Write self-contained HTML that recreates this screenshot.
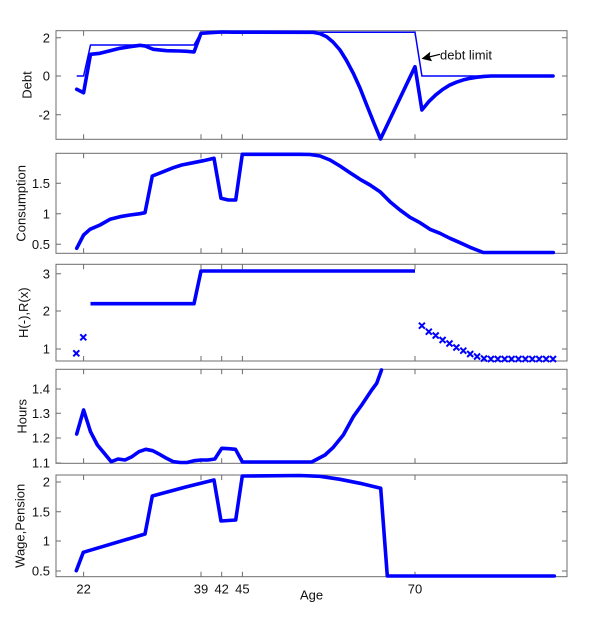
<!DOCTYPE html>
<html>
<head>
<meta charset="utf-8">
<style>
html,body{margin:0;padding:0;background:#fff;}
svg{display:block;}
text{font-family:"Liberation Sans",Arial,sans-serif;font-size:13px;fill:#111;}
</style>
</head>
<body>
<svg width="600" height="619" viewBox="0 0 600 619" xmlns="http://www.w3.org/2000/svg">
<rect x="0" y="0" width="600" height="619" fill="#fff"/>

<!-- axes boxes -->
<g fill="none" stroke="#6c6c6c" stroke-width="1">
  <rect x="56" y="30.7" width="511" height="108.6"/>
  <rect x="56" y="153.3" width="511" height="100"/>
  <rect x="56" y="264.3" width="511" height="96.7"/>
  <rect x="56" y="369.3" width="511" height="94"/>
  <rect x="56" y="475" width="511" height="101.7"/>
  <!-- ticks -->
  <path d="
  M83.6 139.3v-5M201 139.3v-5M221.7 139.3v-5M242.4 139.3v-5M415 139.3v-5
  M83.6 30.7v5M201 30.7v5M221.7 30.7v5M242.4 30.7v5M415 30.7v5
  M56 37.7h5M56 76h5M56 114.7h5M567 37.7h-5M567 76h-5M567 114.7h-5
  M83.6 253.3v-5M201 253.3v-5M221.7 253.3v-5M242.4 253.3v-5M415 253.3v-5
  M83.6 153.3v5M201 153.3v5M221.7 153.3v5M242.4 153.3v5M415 153.3v5
  M56 183.3h5M56 213.7h5M56 244.3h5M567 183.3h-5M567 213.7h-5M567 244.3h-5
  M83.6 361v-5M201 361v-5M221.7 361v-5M242.4 361v-5M415 361v-5
  M83.6 264.3v5M201 264.3v5M221.7 264.3v5M242.4 264.3v5M415 264.3v5
  M56 273.7h5M56 311h5M56 349h5M567 273.7h-5M567 311h-5M567 349h-5
  M83.6 463.3v-5M201 463.3v-5M221.7 463.3v-5M242.4 463.3v-5M415 463.3v-5
  M83.6 369.3v5M201 369.3v5M221.7 369.3v5M242.4 369.3v5M415 369.3v5
  M56 389h5M56 413.3h5M56 438h5M56 463h5M567 389h-5M567 413.3h-5M567 438h-5M567 463h-5
  M83.6 576.7v-5M201 576.7v-5M221.7 576.7v-5M242.4 576.7v-5M415 576.7v-5
  M83.6 475v5M201 475v5M221.7 475v5M242.4 475v5M415 475v5
  M56 482h5M56 511.7h5M56 541h5M56 571h5M567 482h-5M567 511.7h-5M567 541h-5M567 571h-5
  "/>
</g>

<!-- y tick labels -->
<g text-anchor="end">
  <text x="50" y="42.3">2</text>
  <text x="50" y="80.6">0</text>
  <text x="50" y="119.3">-2</text>
  <text x="50" y="187.9">1.5</text>
  <text x="50" y="218.3">1</text>
  <text x="50" y="248.9">0.5</text>
  <text x="50" y="278.3">3</text>
  <text x="50" y="315.6">2</text>
  <text x="50" y="353.6">1</text>
  <text x="50" y="393.6">1.4</text>
  <text x="50" y="417.9">1.3</text>
  <text x="50" y="442.6">1.2</text>
  <text x="50" y="467.6">1.1</text>
  <text x="50" y="486.6">2</text>
  <text x="50" y="516.3">1.5</text>
  <text x="50" y="545.6">1</text>
  <text x="50" y="575.6">0.5</text>
</g>

<!-- y labels -->
<text transform="translate(31.5,85) rotate(-90)" text-anchor="middle">Debt</text>
<text transform="translate(25.5,203.3) rotate(-90)" text-anchor="middle">Consumption</text>
<text transform="translate(28,312.7) rotate(-90)" text-anchor="middle">H(-),R(x)</text>
<text transform="translate(26.7,416.3) rotate(-90)" text-anchor="middle">Hours</text>
<text transform="translate(24.5,525.8) rotate(-90)" text-anchor="middle">Wage,Pension</text>

<!-- x tick labels -->
<g text-anchor="middle">
  <text x="83.6" y="593.5">22</text>
  <text x="201" y="593.5">39</text>
  <text x="221.7" y="593.5">42</text>
  <text x="242.4" y="593.5">45</text>
  <text x="415" y="593.5">70</text>
</g>
<text x="300" y="599.5">Age</text>

<!-- Panel 1: debt limit (thin) -->
<polyline fill="none" stroke="#0000ff" stroke-width="1.5" stroke-linejoin="round"
 points="76.7,76 83.6,76 90.5,45 194,45 201,32.3 415,32.3 421.9,76 553,76"/>
<!-- Panel 1: debt (thick) -->
<polyline fill="none" stroke="#0000ff" stroke-width="3.6" stroke-linejoin="round" stroke-linecap="round"
 points="76.7,89.3 83.6,92.7 90.5,54.3 100,53.3 110,50.7 120,48.3 130,46.7 140,45.3 145,46 153.3,49.3 166.7,50.7 180,51 186.7,51.3 194,52 201,33.3 210,32.7 221.7,32 233,32.2 313.3,32.3 320,33.6 326.7,36.7 333,42 340,50 346.5,60.5 353.3,73.3 360,88 366.7,105 373.5,122 380.5,139 415,66.7 421.9,110 428.8,101.6 435.7,94.9 442.6,89.5 449.5,85.2 456.4,82.2 463.3,79.9 470.2,78.3 477.1,77.2 484,76.4 491,76 553,76"/>

<!-- annotation arrow -->
<line x1="440" y1="54.3" x2="429" y2="57" stroke="#000" stroke-width="1.2"/>
<polygon points="421.5,58.7 432.1,61.2 429.6,56.7 430.3,51.8" fill="#000"/>
<text x="440" y="59.3">debt limit</text>

<!-- Panel 2: consumption -->
<polyline fill="none" stroke="#0000ff" stroke-width="3.6" stroke-linejoin="round" stroke-linecap="round"
 points="76.7,248.3 83.6,235 90,229.3 100,225 110,219.3 120,216.7 130,215 140,213.7 145,212.7 152.3,176 163.3,171.7 173.3,167.7 181.7,165 193.3,162.7 203.3,160.7 214,158.3 221,198.3 228.3,200 235.7,200 242.3,154.3 300,154.3 310,154.5 320,156 330,160 340,166 350,172.7 360,179.3 370,185 380,191.7 390,201.7 400,210 410,217.3 420,222.7 430,229.3 440,233.3 450,238.3 460,242.7 470,247.3 483.3,252.5 553.3,252.5"/>

<!-- Panel 3 -->
<polyline fill="none" stroke="#0000ff" stroke-width="3.6" stroke-linejoin="round"
 points="90.5,303.7 194,303.7 201,271 415,271"/>
<g stroke="#0000ff" stroke-width="2" fill="none">
  <path d="M73.3 350.3l6 6M79.3 350.3l-6 6"/>
  <path d="M80.3 334.3l6 6M86.3 334.3l-6 6"/>
  <path d="
  M418.9 322.7l6 6M424.9 322.7l-6 6
  M425.8 328.7l6 6M431.8 328.7l-6 6
  M432.7 332.5l6 6M438.7 332.5l-6 6
  M439.6 337l6 6M445.6 337l-6 6
  M446.5 340.5l6 6M452.5 340.5l-6 6
  M453.4 344.5l6 6M459.4 344.5l-6 6
  M460.3 347.7l6 6M466.3 347.7l-6 6
  M467.2 351l6 6M473.2 351l-6 6
  M474.1 353.5l6 6M480.1 353.5l-6 6
  M481 355.5l6 6M487 355.5l-6 6
  M487.9 356l6 6M493.9 356l-6 6
  M494.8 356l6 6M500.8 356l-6 6
  M501.7 356l6 6M507.7 356l-6 6
  M508.6 356l6 6M514.6 356l-6 6
  M515.5 356l6 6M521.5 356l-6 6
  M522.4 356l6 6M528.4 356l-6 6
  M529.3 356l6 6M535.3 356l-6 6
  M536.2 356l6 6M542.2 356l-6 6
  M543.1 356l6 6M549.1 356l-6 6
  M550 356l6 6M556 356l-6 6"/>
</g>

<!-- Panel 4: hours -->
<polyline fill="none" stroke="#0000ff" stroke-width="3.6" stroke-linejoin="round" stroke-linecap="round"
 points="76.7,434 83.6,410 90.5,431.7 97.4,445 104.3,453.3 111.2,461.7 118.1,459 125,460 131.9,456.7 138.9,451.7 145.8,449.3 152.7,450.7 159.6,454.3 166.5,458.3 173.4,461.7 180.3,462.5 187.2,462.5 194.1,460.7 201,460 207.9,460 214.8,459 221.7,448.3 228.6,448.7 235.5,449.3 242.4,462 311.7,462 325,455 333.3,447.3 343.3,435 353.3,416.7 361.7,405 371.7,390 376.7,383.3 381.5,370"/>

<!-- Panel 5: wage -->
<polyline fill="none" stroke="#0000ff" stroke-width="3.6" stroke-linejoin="round" stroke-linecap="round"
 points="76.3,570.7 83.3,552.3 145,534 152.3,496 186.7,486.7 214,480 221,521 235.7,520 242.3,476 300,475.5 320,476.3 340,479.3 360,483.3 380.7,488.3 387.3,576 554.3,576"/>
</svg>
</body>
</html>
